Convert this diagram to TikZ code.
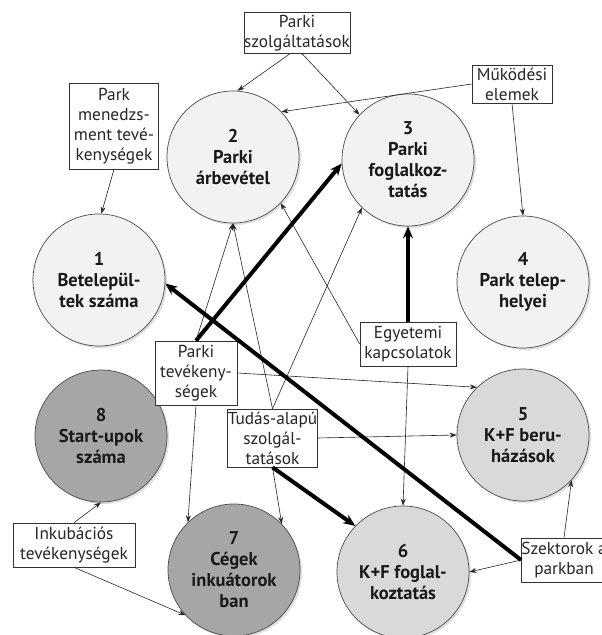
\documentclass[tikz,border=0pt]{standalone}
\usepackage{fontspec}
\setmainfont{PT Sans}
\usetikzlibrary{arrows.meta,shadows}
\begin{document}
\begin{tikzpicture}[x=1pt,y=-1pt,
  circ/.style={circle,draw=black!70,line width=0.7pt,minimum size=132pt,inner sep=0pt,align=center,
    font=\bfseries\fontsize{18.5}{21}\selectfont,text=black!90,
    drop shadow={opacity=0.25,shadow xshift=2pt,shadow yshift=-2pt}},
  light/.style={circ,fill=black!5},
  mid/.style={circ,fill=black!15},
  dark/.style={circ,fill=black!35},
  box/.style={draw=black!80,fill=white,line width=0.6pt,align=center,inner sep=0pt,
    font=\fontsize{17.3}{20}\selectfont,text=black!85},
  thinarr/.style={-{Stealth[length=7pt,width=5pt]},line width=0.6pt,draw=black!85},
  thickarr/.style={-{Stealth[length=12pt,width=10pt]},line width=4pt,draw=black}
]
\clip (0,0) rectangle (602,635);
\fill[white] (0,0) rectangle (602,635);

\node[light] (c1) at (99,280) {1\\Betelepül-\\tek száma};
\node[light] (c2) at (233,157) {2\\Parki\\árbevétel};
\node[light] (c3) at (408,160) {3\\Parki\\foglalkoz-\\tatás};
\node[light] (c4) at (523,282) {4\\Park telep-\\helyei};
\node[mid] (c5) at (523,435) {5\\K+F beru-\\házások};
\node[mid] (c6) at (403,572) {6\\K+F foglal-\\koztatás};
\node[dark] (c7) at (234,570) {7\\Cégek\\inkuátorok\\ban};
\node[dark] (c8) at (101,436) {8\\Start-upok\\száma};

\node[box,minimum width=104pt,minimum height=41pt] (psz) at (297,33) {Parki\\szolgáltatások};
\node[box,minimum width=89pt,minimum height=86pt] (pmen) at (114,126) {Park\\menedzs-\\ment tevé-\\kenységek};
\node[box,minimum width=80pt,minimum height=38pt] (muk) at (512,84) {Működési\\elemek};
\node[box,minimum width=96pt,minimum height=44pt] (egy) at (408,344) {Egyetemi\\kapcsolatok};
\node[box,minimum width=82pt,minimum height=64pt] (ptev) at (196,373) {Parki\\tevékeny-\\ségek};
\node[box,minimum width=81pt,minimum height=58pt] (tud) at (272.5,438) {Tudás-alapú\\szolgál-\\tatások};
\node[box,minimum width=122pt,minimum height=44pt] (ink) at (74,545) {Inkubációs\\tevékenységek};
\node[box,minimum width=82pt,minimum height=44pt] (szk) at (564,560) {Szektorok a\\parkban};

\draw[thinarr] (psz.-109) -- (c2.86);
\draw[thinarr] (psz.-76) -- (c3.137);
\draw[thinarr] (muk.west) -- (c2.43);
\draw[thinarr] (muk.south) -- (c4.north);
\draw[thinarr] (pmen.south) -- (c1.88);
\draw[thinarr] (ptev.north) -- (c2.south);
\draw[thinarr] (tud.north) -- (c2.south);
\draw[thinarr] (tud.north) -- (c3.-134);
\draw[thinarr] (egy.west) -- (c2.-44);
\draw[thickarr] (egy.north) -- (c3.south);
\draw[thinarr] (egy.south) -- (c6.north);
\draw[thinarr] (ptev.east) -- (c5.134);
\draw[thinarr] (tud.east) -- (c5.west);
\draw[thinarr] (ptev.south) -- (c7.134);
\draw[thinarr] (tud.south) -- (c7.44);
\draw[thickarr] (tud.south) -- (c6.136);
\draw[thinarr] (ink.north) -- (c8.south);
\draw[thinarr] (ink.south) -- (c7.-137);
\draw[thinarr] (szk.north) -- (c5.-43);
\draw[thinarr] (szk.west) -- (c6.east);
\draw[thickarr] (szk.west) -- (c1.-3);
\draw[thickarr] (ptev.north) -- (c3.183);
\end{tikzpicture}
\end{document}
